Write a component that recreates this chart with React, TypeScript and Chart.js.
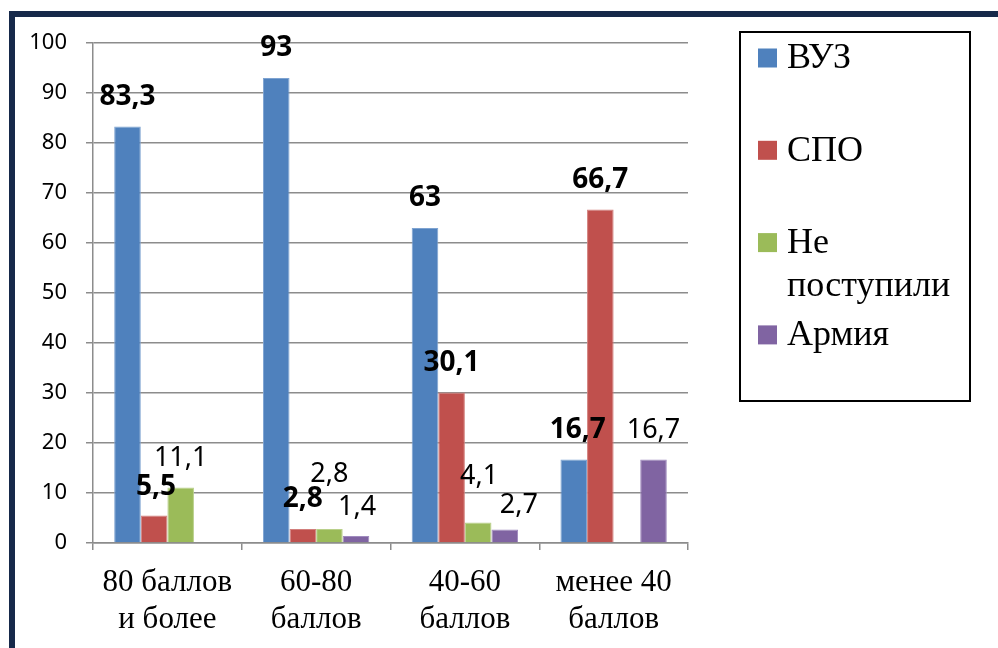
import React, { useEffect, useRef } from "react";
import { Chart, registerables } from "chart.js";

Chart.register(...registerables);

// ---- data ----
const categories: string[][] = [
  ["80 баллов", "и более"],
  ["60-80", "баллов"],
  ["40-60", "баллов"],
  ["менее 40", "баллов"],
];
const seriesNames = ["ВУЗ", "СПО", "Не поступили", "Армия"];
const vuz = [83.3, 93, 63, 16.7];
const spo = [5.5, 2.8, 30.1, 66.7];
const notEnrolled = [11.1, 2.8, 4.1, null];
const army = [null, 1.4, 2.7, 16.7];
const yMin = 0;
const yMax = 100;
const yStep = 10;
const boldSeries = [true, true, false, false];

const colors = ["#4F81BD", "#C0504D", "#9BBB59", "#8064A2"];
const edgeColors = ["#7EA3D1", "#D27F7C", "#B9D08A", "#A08BBF"];

const serif = "'Liberation Serif', 'Times New Roman', serif";
const sans = "'Noto Sans', 'Open Sans', sans-serif";

const fmt = (v: number) => String(v).replace(".", ",");

const valueLabels = {
  id: "valueLabels",
  afterDatasetsDraw(chart: any, _args: any, opts: any) {
    const ctx = chart.ctx;
    chart.data.datasets.forEach((ds: any, i: number) => {
      const meta = chart.getDatasetMeta(i);
      meta.data.forEach((bar: any, j: number) => {
        const v = ds.data[j];
        if (v == null) return;
        const n = (opts.nudges && opts.nudges[`${i}-${j}`]) || [0, 0];
        ctx.save();
        ctx.font = boldSeries[i] ? `bold 28px ${sans}` : `27px ${sans}`;
        ctx.fillStyle = "#000";
        ctx.textAlign = "center";
        ctx.textBaseline = "middle";
        ctx.fillText(fmt(v), bar.x + n[0], bar.y - opts.offset + n[1]);
        ctx.restore();
      });
    });
  },
};

const boxLegend = {
  id: "boxLegend",
  afterDraw(chart: any, _args: any, opts: any) {
    const ctx = chart.ctx;
    const { x, y, w, h, step, first, sq, textX, lineH, maxW } = opts;
    ctx.save();
    ctx.strokeStyle = "#000";
    ctx.lineWidth = 2;
    ctx.strokeRect(x, y, w, h);
    ctx.font = `36px ${serif}`;
    ctx.textBaseline = "middle";
    ctx.textAlign = "left";
    chart.data.datasets.forEach((ds: any, i: number) => {
      const cy = first + i * step;
      ctx.fillStyle = ds.backgroundColor;
      ctx.fillRect(x + 18, cy - sq / 2, sq, sq);
      ctx.fillStyle = "#000";
      const words = String(ds.label).split(" ");
      const lines: string[] = [];
      let cur = "";
      words.forEach((wd) => {
        const t = cur ? cur + " " + wd : wd;
        if (cur && ctx.measureText(t).width > maxW) {
          lines.push(cur);
          cur = wd;
        } else cur = t;
      });
      if (cur) lines.push(cur);
      lines.forEach((ln, k) => ctx.fillText(ln, textX, cy + 1 + k * lineH));
    });
    ctx.restore();
  },
};

export default function App() {
  const ref = useRef<HTMLCanvasElement | null>(null);

  useEffect(() => {
    if (!ref.current) return;
    const seriesData = [vuz, spo, notEnrolled, army];
    const chart = new Chart(ref.current, {
      type: "bar",
      data: {
        labels: categories,
        datasets: seriesNames.map((name, i) => ({
          label: name,
          data: seriesData[i],
          backgroundColor: colors[i],
          borderColor: edgeColors[i],
          borderWidth: 1,
          categoryPercentage: 0.715,
          barPercentage: 1,
        })),
      },
      options: {
        responsive: false,
        animation: false,
        devicePixelRatio: 1,
        layout: { padding: { left: 0, top: 43, right: 310, bottom: 0 } },
        plugins: {
          legend: { display: false },
          tooltip: { enabled: false },
          valueLabels: {
            offset: 29.5,
            nudges: {
              "0-3": [4, 0],
              "1-0": [2, 1],
              "2-1": [0, -25],
              "2-2": [1, -17],
              "3-1": [1, 1],
              "3-2": [14, 5],
            },
          },
          boxLegend: {
            x: 740,
            y: 32,
            w: 230,
            h: 369,
            step: 92.3,
            first: 58,
            sq: 19,
            textX: 787,
            lineH: 43,
            maxW: 178,
          },
        } as any,
        scales: {
          x: {
            grid: {
              display: true,
              drawOnChartArea: false,
              drawTicks: true,
              tickLength: 7,
              offset: true,
              color: "#8c8c8c",
              lineWidth: 1.5,
            },
            border: { display: true, color: "#8c8c8c", width: 1.5 },
            ticks: {
              color: "#000",
              font: { family: serif, size: 31, lineHeight: 1.2 },
              padding: 14,
              maxRotation: 0,
              autoSkip: false,
            },
            afterFit: (s: any) => {
              s.height = 105;
            },
          },
          y: {
            min: yMin,
            max: yMax,
            ticks: {
              stepSize: yStep,
              color: "#000",
              font: { family: sans, size: 22 },
              padding: 19,
            },
            grid: {
              color: "#8c8c8c",
              lineWidth: 1.5,
              tickLength: 7,
              drawTicks: true,
            },
            border: { display: true, color: "#8c8c8c", width: 1.5 },
            afterFit: (s: any) => {
              s.width = 93;
            },
          },
        },
      },
      plugins: [valueLabels, boxLegend],
    } as any);
    return () => chart.destroy();
  }, []);

  return (
    <div
      style={{
        position: "fixed",
        left: 0,
        top: 0,
        width: 998,
        height: 648,
        background: "#fff",
        overflow: "hidden",
      }}
    >
      <div
        style={{
          position: "absolute",
          left: 9,
          top: 11,
          right: 0,
          bottom: 0,
          borderTop: "6px solid #16294A",
          borderLeft: "6px solid #16294A",
        }}
      />
      <canvas
        ref={ref}
        width={998}
        height={648}
        style={{ position: "absolute", left: 0, top: 0, width: 998, height: 648, display: "block" }}
      />
    </div>
  );
}
